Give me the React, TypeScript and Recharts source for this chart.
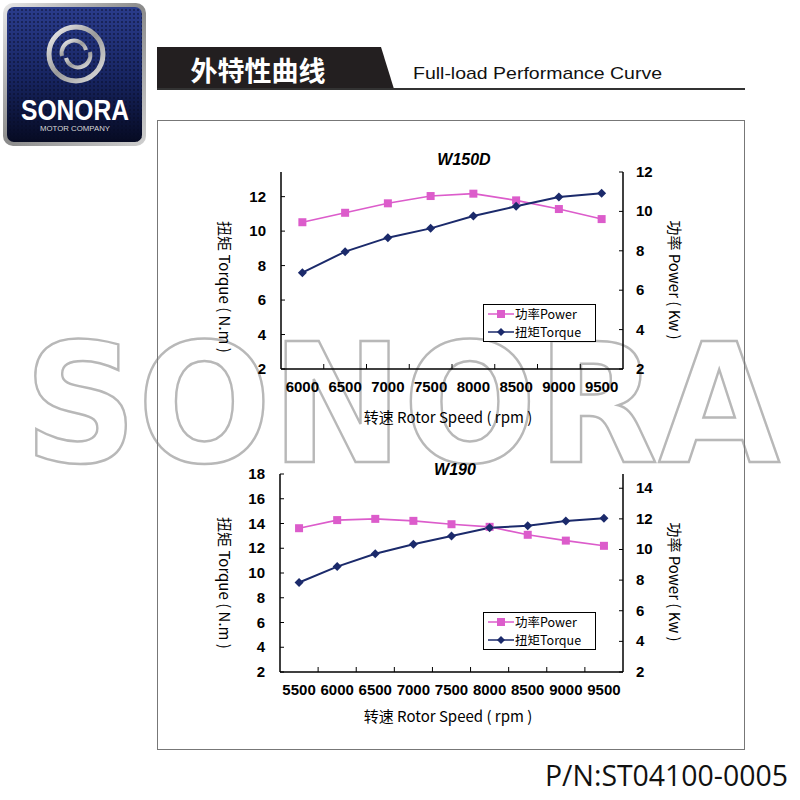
import { LineChart, Line, XAxis, YAxis, Legend } from "recharts";

// values
const rpmTop = ["6000", "6500", "7000", "7500", "8000", "8500", "9000", "9500"];
const powerTop = [9.45, 9.93, 10.41, 10.78, 10.9, 10.56, 10.12, 9.61];
const torqueTop = [7.59, 8.81, 9.62, 10.16, 10.88, 11.44, 11.98, 12.2];
const torqueTicksTop = [2, 4, 6, 8, 10, 12];
const powerTicksTop = [2, 4, 6, 8, 10, 12];

const rpmBottom = ["5500", "6000", "6500", "7000", "7500", "8000", "8500", "9000", "9500"];
const powerBottom = [11.39, 11.92, 12.0, 11.87, 11.65, 11.48, 10.96, 10.58, 10.24];
const torqueBottom = [9.23, 10.52, 11.56, 12.32, 12.99, 13.66, 13.82, 14.2, 14.42];
const torqueTicksBottom = [2, 4, 6, 8, 10, 12, 14, 16, 18];
const powerTicksBottom = [2, 4, 6, 8, 10, 12, 14];

const PINK = "#dc5ccb";
const NAVY = "#1b2a6b";
const NUM_FONT = "'Liberation Sans', Arial, sans-serif";
const CJK = "'Noto Sans CJK SC', 'Noto Sans', sans-serif";

const CHART_W = 480;
const CHART_H = 290;

const Square = (p: any) => {
  if (p.cx == null) return <g key={p.index} />;
  return <rect key={p.index} x={p.cx - 4} y={p.cy - 4} width={8} height={8} fill={PINK} />;
};

const Diamond = (p: any) => {
  if (p.cx == null) return <g key={p.index} />;
  const { cx, cy } = p;
  return (
    <polygon
      key={p.index}
      points={`${cx},${cy - 4.5} ${cx + 4.5},${cy} ${cx},${cy + 4.5} ${cx - 4.5},${cy}`}
      fill={NAVY}
    />
  );
};

// category axis: labels at the centre, small inside ticks between categories
const makeXTick = (step: number) => (props: any) => {
  const { x, y, payload, index } = props;
  const bx = x - step / 2;
  return (
    <g>
      {index > 0 && <line x1={bx} x2={bx} y1={y} y2={y - 5} stroke="#000" strokeWidth={1} />}
      <text x={x} y={y + 23} textAnchor="middle" fontFamily={NUM_FONT} fontWeight="bold" fontSize={15} fill="#000">
        {payload.value}
      </text>
    </g>
  );
};

const LeftTick = (props: any) => {
  const { x, y, payload } = props;
  return (
    <g>
      <line x1={x} x2={x + 4} y1={y} y2={y} stroke="#000" />
      <text x={x - 15} y={y + 5} textAnchor="end" fontFamily={NUM_FONT} fontWeight="bold" fontSize={15} fill="#000">
        {payload.value}
      </text>
    </g>
  );
};

const RightTick = (props: any) => {
  const { x, y, payload } = props;
  return (
    <g>
      <line x1={x} x2={x - 4} y1={y} y2={y} stroke="#000" />
      <text x={x + 13} y={y + 5} textAnchor="start" fontFamily={NUM_FONT} fontWeight="bold" fontSize={15} fill="#000">
        {payload.value}
      </text>
    </g>
  );
};

const LegendRow = ({ color, label, square }: { color: string; label: string; square: boolean }) => (
  <div style={{ display: "flex", alignItems: "center", height: 18 }}>
    <svg width={28} height={14} style={{ marginLeft: 3 }}>
      <line x1={1} x2={27} y1={7} y2={7} stroke={color} strokeWidth={1.5} />
      {square ? (
        <rect x={10} y={3} width={8} height={8} fill={color} />
      ) : (
        <polygon points="14,3 18,7 14,11 10,7" fill={color} />
      )}
    </svg>
    <span style={{ fontFamily: CJK, fontSize: 12.5, color: "#000", lineHeight: "14px" }}>{label}</span>
  </div>
);

const LegendBox = () => (
  <div style={{ border: "1px solid #000", background: "#fff", width: 111, height: 36 }}>
    <LegendRow color={PINK} label="功率Power" square />
    <LegendRow color={NAVY} label="扭矩Torque" square={false} />
  </div>
);

interface PanelProps {
  rpm: string[];
  power: number[];
  torque: number[];
  torqueDomain: [number, number];
  torqueTicks: number[];
  powerDomain: [number, number];
  powerTicks: number[];
  top: number;
  marginTop: number;
  plotH: number;
  leftW: number;
  rightW: number;
  legendTop: number;
}

function Panel(p: PanelProps) {
  const data = p.rpm.map((r, i) => ({ rpm: r, power: p.power[i], torque: p.torque[i] }));
  const step = (CHART_W - p.leftW - p.rightW) / p.rpm.length;
  const xHeight = CHART_H - p.marginTop - p.plotH;
  return (
    <div style={{ position: "absolute", left: 200, top: p.top, width: CHART_W, height: CHART_H }}>
      <LineChart width={CHART_W} height={CHART_H} data={data} margin={{ top: p.marginTop, right: 0, bottom: 0, left: 0 }}>
        <XAxis
          dataKey="rpm"
          scale="band"
          height={xHeight}
          axisLine={{ stroke: "#000", strokeWidth: 1.5 }}
          tickLine={false}
          tickSize={0}
          tickMargin={0}
          interval={0}
          tick={makeXTick(step)}
        />
        <YAxis
          yAxisId="torque"
          orientation="left"
          width={p.leftW}
          domain={p.torqueDomain}
          ticks={p.torqueTicks}
          allowDataOverflow
          axisLine={{ stroke: "#000", strokeWidth: 1.5 }}
          tickLine={false}
          tickSize={0}
          tickMargin={0}
          tick={LeftTick}
        />
        <YAxis
          yAxisId="power"
          orientation="right"
          width={p.rightW}
          domain={p.powerDomain}
          ticks={p.powerTicks}
          allowDataOverflow
          axisLine={{ stroke: "#000", strokeWidth: 1.5 }}
          tickLine={false}
          tickSize={0}
          tickMargin={0}
          tick={RightTick}
        />
        <Legend
          layout="vertical"
          align="center"
          verticalAlign="middle"
          content={LegendBox}
          wrapperStyle={{ left: 283, top: p.legendTop, width: 113, height: 38 }}
        />
        <Line
          yAxisId="power"
          dataKey="power"
          name="功率Power"
          stroke={PINK}
          strokeWidth={1.6}
          dot={Square}
          activeDot={false}
          isAnimationActive={false}
        />
        <Line
          yAxisId="torque"
          dataKey="torque"
          name="扭矩Torque"
          stroke={NAVY}
          strokeWidth={2}
          dot={Diamond}
          activeDot={false}
          isAnimationActive={false}
        />
      </LineChart>
    </div>
  );
}

function Logo() {
  return (
    <svg width={150} height={150} style={{ position: "absolute", left: 0, top: 0 }}>
      <defs>
        <linearGradient id="lgBorder" x1="0" y1="0" x2="1" y2="1">
          <stop offset="0" stopColor="#e8e8e8" />
          <stop offset="0.5" stopColor="#8a8a8a" />
          <stop offset="1" stopColor="#d0d0d0" />
        </linearGradient>
        <linearGradient id="lgBg" x1="0" y1="0" x2="0" y2="1">
          <stop offset="0" stopColor="#2a3c8c" />
          <stop offset="0.55" stopColor="#16235e" />
          <stop offset="1" stopColor="#060a22" />
        </linearGradient>
        <pattern id="lgDots" width="4" height="4" patternUnits="userSpaceOnUse">
          <circle cx="2" cy="2" r="1.1" fill="#050a25" opacity="0.55" />
        </pattern>
        <linearGradient id="lgRing" x1="0" y1="0" x2="1" y2="1">
          <stop offset="0" stopColor="#f4f4f4" />
          <stop offset="0.5" stopColor="#9a9a9a" />
          <stop offset="1" stopColor="#e0e0e0" />
        </linearGradient>
      </defs>
      <rect x={3} y={3} width={143} height={143} rx={10} fill="url(#lgBorder)" />
      <rect x={7} y={7} width={135} height={135} rx={7} fill="url(#lgBg)" />
      <rect x={7} y={7} width={135} height={135} rx={7} fill="url(#lgDots)" />
      <circle cx={76} cy={54} r={27} fill="none" stroke="url(#lgRing)" strokeWidth={5} />
      <path d="M 62 56 A 12 12 0 0 1 86 50" fill="none" stroke="url(#lgRing)" strokeWidth={4} />
      <path d="M 66 58 A 12 12 0 0 0 90 52" fill="none" stroke="url(#lgRing)" strokeWidth={4} />
      <text x={75} y={120} textAnchor="middle" fill="#fff" fontFamily={NUM_FONT} fontWeight="bold" fontSize={29} textLength={108} lengthAdjust="spacingAndGlyphs">
        SONORA
      </text>
      <text x={75} y={131} textAnchor="middle" fill="#d8d8d8" fontFamily={NUM_FONT} fontSize={7.5} textLength={70} lengthAdjust="spacingAndGlyphs">
        MOTOR COMPANY
      </text>
    </svg>
  );
}

const AxisCaption = ({ x, y, text }: { x: number; y: number; text: string }) => (
  <text transform={`translate(${x},${y}) rotate(90)`} textAnchor="middle" dominantBaseline="central" fontFamily={CJK} fontSize={15} fill="#000">
    {text}
  </text>
);

export default function App() {
  return (
    <div style={{ position: "absolute", left: 0, top: 0, width: 800, height: 800, background: "#fff", overflow: "hidden" }}>
      {/* watermark */}
      <svg width={800} height={800} style={{ position: "absolute", left: 0, top: 0 }}>
        <text
          x={24}
          y={462}
          fontFamily="'DejaVu Sans', sans-serif"
          fontWeight="bold"
          fontSize={165}
          textLength={756}
          lengthAdjust="spacingAndGlyphs"
          fill="none"
          stroke="#b8b8b8"
          strokeWidth={2.5}
        >
          SONORA
        </text>
      </svg>

      {/* header and frame */}
      <svg width={800} height={800} style={{ position: "absolute", left: 0, top: 0 }}>
        <polygon points="157,47 381,47 394,89 157,89" fill="#231f20" />
        <line x1={157} x2={745} y1={89} y2={89} stroke="#333" strokeWidth={2} />
        <text x={258} y={81} textAnchor="middle" fill="#fff" fontFamily={CJK} fontWeight="bold" fontSize={27}>
          外特性曲线
        </text>
        <text x={413} y={79} fill="#111" fontFamily={NUM_FONT} fontSize={17} textLength={249} lengthAdjust="spacingAndGlyphs">
          Full-load Performance Curve
        </text>
        <rect x={157.5} y={120.5} width={587} height={629} fill="none" stroke="#777" strokeWidth={1} />
        <text x={545} y={786} fill="#111" fontFamily="'Open Sans', sans-serif" fontSize={29} textLength={243} lengthAdjust="spacingAndGlyphs">
          P/N:ST04100-0005
        </text>
      </svg>

      <Logo />

      <Panel
        rpm={rpmTop}
        power={powerTop}
        torque={torqueTop}
        torqueDomain={[2, 13.43]}
        torqueTicks={torqueTicksTop}
        powerDomain={[2, 12]}
        powerTicks={powerTicksTop}
        top={150}
        marginTop={22}
        plotH={197}
        leftW={81}
        rightW={57}
        legendTop={154}
      />
      <Panel
        rpm={rpmBottom}
        power={powerBottom}
        torque={torqueBottom}
        torqueDomain={[2, 18]}
        torqueTicks={torqueTicksBottom}
        powerDomain={[2, 14.93]}
        powerTicks={powerTicksBottom}
        top={450}
        marginTop={24}
        plotH={198}
        leftW={80}
        rightW={57}
        legendTop={162}
      />

      {/* titles and axis captions */}
      <svg width={800} height={800} style={{ position: "absolute", left: 0, top: 0, pointerEvents: "none" }}>
        <text x={464} y={165} textAnchor="middle" fontFamily={NUM_FONT} fontWeight="bold" fontStyle="italic" fontSize={16} fill="#000">
          W150D
        </text>
        <text x={455} y={475} textAnchor="middle" fontFamily={NUM_FONT} fontWeight="bold" fontStyle="italic" fontSize={16} fill="#000">
          W190
        </text>
        <AxisCaption x={225} y={287} text="扭矩 Torque ( N.m )" />
        <AxisCaption x={675} y={280} text="功率 Power ( Kw )" />
        <AxisCaption x={225} y={583} text="扭矩 Torque ( N.m )" />
        <AxisCaption x={675} y={582} text="功率 Power ( Kw )" />
        <text x={448} y={423} textAnchor="middle" fontFamily={CJK} fontSize={15} fill="#000">
          转速 Rotor Speed ( rpm )
        </text>
        <text x={448} y={722} textAnchor="middle" fontFamily={CJK} fontSize={15} fill="#000">
          转速 Rotor Speed ( rpm )
        </text>
      </svg>
    </div>
  );
}
